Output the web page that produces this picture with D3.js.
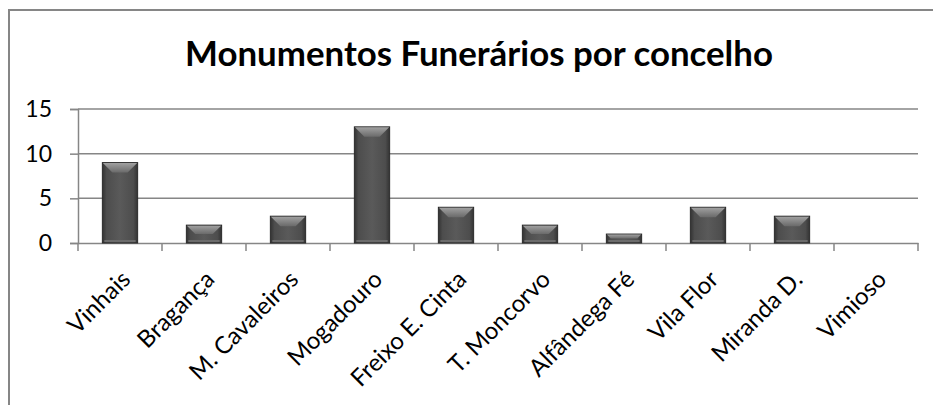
<!DOCTYPE html>
<html>
<head>
<meta charset="utf-8">
<script src="https://cdn.jsdelivr.net/npm/d3@7"></script>
<style>
  body { margin: 0; background: #fff; }
  text { font-family: Lato, "Open Sans", sans-serif; fill: #000; }
</style>
</head>
<body>
<div id="chart"></div>
<script>
  const categories = [
    "Vinhais",
    "Bragança",
    "M. Cavaleiros",
    "Mogadouro",
    "Freixo E. Cinta",
    "T. Moncorvo",
    "Alfândega Fé",
    "Vila Flor",
    "Miranda D.",
    "Vimioso",
  ];
  const values = [9, 2, 3, 13, 4, 2, 1, 4, 3, 0];
  const yTicks = [0, 5, 10, 15];
  const title = "Monumentos Funerários por concelho";

  const width = 933;
  const height = 405;
  const margin = { top: 109, right: 15, bottom: 162, left: 78 };

  const svg = d3
    .select("#chart")
    .append("svg")
    .attr("width", width)
    .attr("height", height);

  // gradients for the bevelled bars
  const defs = svg.append("defs");
  const body = defs
    .append("linearGradient")
    .attr("id", "barBody")
    .attr("x1", 0)
    .attr("x2", 1)
    .attr("y1", 0)
    .attr("y2", 0);
  [
    [0, "#333"],
    [0.12, "#4d4d4d"],
    [0.5, "#5a5a5a"],
    [0.88, "#4d4d4d"],
    [1, "#333"],
  ].forEach(([o, c]) => body.append("stop").attr("offset", o).attr("stop-color", c));

  const bevel = defs
    .append("linearGradient")
    .attr("id", "barTop")
    .attr("x1", 0)
    .attr("x2", 0)
    .attr("y1", 0)
    .attr("y2", 1);
  [
    [0, "#a0a0a0"],
    [1, "#6a6a6a"],
  ].forEach(([o, c]) => bevel.append("stop").attr("offset", o).attr("stop-color", c));

  // outer chart border
  svg
    .append("rect")
    .attr("x", 9)
    .attr("y", 10)
    .attr("width", 960)
    .attr("height", 420)
    .attr("fill", "none")
    .attr("stroke", "#868686")
    .attr("stroke-width", 2);

  const x = d3
    .scaleBand()
    .domain(categories)
    .range([margin.left, width - margin.right])
    .padding(0);

  const y = d3
    .scaleLinear()
    .domain([0, 15])
    .range([height - margin.bottom, margin.top]);

  // gridlines
  svg
    .append("g")
    .selectAll("line")
    .data(yTicks.filter((d) => d > 0))
    .enter()
    .append("line")
    .attr("x1", margin.left)
    .attr("x2", width - margin.right)
    .attr("y1", (d) => y(d))
    .attr("y2", (d) => y(d))
    .attr("stroke", "#868686")
    .attr("stroke-width", 1.5);

  // y axis
  const yAxis = svg
    .append("g")
    .attr("transform", `translate(${margin.left}, 0)`)
    .call(d3.axisLeft(y).tickValues(yTicks).tickSize(8).tickPadding(18));
  yAxis.selectAll("line, path").attr("stroke", "#868686").attr("stroke-width", 1.5);
  yAxis
    .selectAll("text")
    .style("font-size", "23px")
    .attr("fill", "#000");

  // x axis
  const xAxis = svg
    .append("g")
    .attr("transform", `translate(0, ${height - margin.bottom})`)
    .call(
      d3
        .axisBottom(x)
        .tickSize(0)
        .tickFormat(() => "")
    );
  xAxis.select("path").attr("stroke", "#868686").attr("stroke-width", 1.5);

  // category separators
  svg
    .append("g")
    .selectAll("line")
    .data(categories.concat([null]))
    .enter()
    .append("line")
    .attr("x1", (d) => (d ? x(d) : x.range()[1]))
    .attr("x2", (d) => (d ? x(d) : x.range()[1]))
    .attr("y1", y(0))
    .attr("y2", y(0) + 8)
    .attr("stroke", "#868686")
    .attr("stroke-width", 1.5);

  // bars
  const barW = x.bandwidth() * 0.42;
  const bars = svg
    .append("g")
    .selectAll("g")
    .data(values.map((v, i) => ({ cat: categories[i], v })))
    .enter()
    .append("g")
    .filter((d) => d.v > 0);

  bars
    .append("rect")
    .attr("x", (d) => x(d.cat) + (x.bandwidth() - barW) / 2)
    .attr("y", (d) => y(d.v))
    .attr("width", barW)
    .attr("height", (d) => y(0) - y(d.v))
    .attr("fill", "url(#barBody)")
    .attr("stroke", "#2a2a2a")
    .attr("stroke-width", 1);

  bars
    .append("path")
    .attr("d", (d) => {
      const x0 = x(d.cat) + (x.bandwidth() - barW) / 2;
      const x1 = x0 + barW;
      const y0 = y(d.v);
      const b = Math.min(10, (y(0) - y0) / 2);
      return `M${x0 + 0.5},${y0 + 0.5}L${x1 - 0.5},${y0 + 0.5}L${x1 - b},${y0 + b}L${x0 + b},${y0 + b}Z`;
    })
    .attr("fill", "url(#barTop)");

  // bottom light edge
  bars
    .append("rect")
    .attr("x", (d) => x(d.cat) + (x.bandwidth() - barW) / 2 + 2)
    .attr("y", y(0) - 3)
    .attr("width", barW - 4)
    .attr("height", 2)
    .attr("fill", "#6c6c6c");

  // category labels
  svg
    .append("g")
    .selectAll("text")
    .data(categories)
    .enter()
    .append("text")
    .attr(
      "transform",
      (d) => `translate(${x(d) + x.bandwidth() / 2}, ${y(0) + 26}) rotate(-45)`
    )
    .attr("text-anchor", "end")
    .attr("dy", "0.7em")
    .style("font-size", "24px")
    .text((d) => d);

  // title
  const t = svg
    .append("text")
    .attr("x", 479)
    .attr("y", 66)
    .attr("text-anchor", "middle")
    .style("font-weight", "bold")
    .style("font-size", "30px")
    .text(title);
  const tw = t.node().getComputedTextLength();
  t.style("font-size", `${(30 * 588) / tw}px`);
</script>
</body>
</html>
